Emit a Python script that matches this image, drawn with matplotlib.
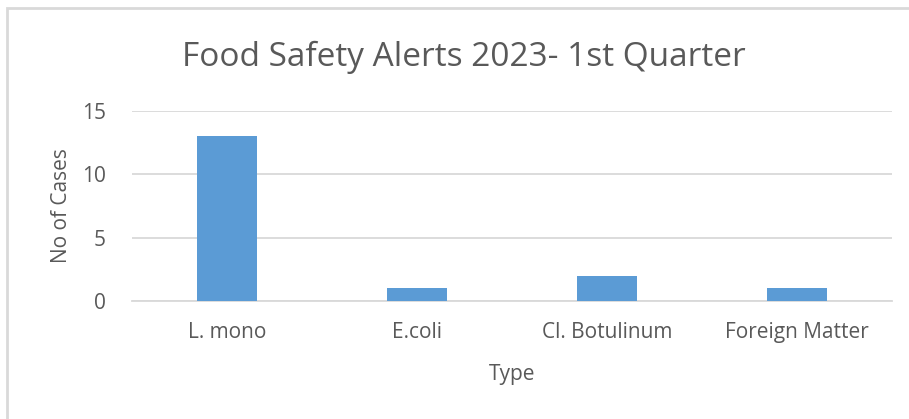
import matplotlib.pyplot as plt
from matplotlib.patches import Rectangle

# 数据
categories = ['L. mono', 'E.coli', 'Cl. Botulinum', 'Foreign Matter']
cases = [13, 1, 2, 1]
yticks = [0, 5, 10, 15]

plt.rcParams['font.family'] = ['Open Sans', 'DejaVu Sans']
textColor = '#595959'
gridColor = '#d9d9d9'

fig = plt.figure(figsize=(9.09, 4.19), dpi=100)
# 外边框（右侧与底部被裁掉）
fig.patches.append(Rectangle((7 / 909, -0.1), 1.2, (419 - 8) / 419 + 0.1,
                             transform=fig.transFigure, fill=False,
                             edgecolor=gridColor, linewidth=2))

ax = fig.add_axes([132 / 909, (419 - 301) / 419, 760 / 909, 190 / 419])
xpos = list(range(len(categories)))
ax.bar(xpos, cases, width=0.315, color='#5b9bd5', zorder=3)
ax.set_xlim(-0.5, len(categories) - 0.5)
ax.set_ylim(0, 15)
ax.set_yticks(yticks)
ax.set_xticks(xpos)
ax.set_xticklabels(categories)
ax.grid(axis='y', color=gridColor, linewidth=1.3, zorder=0)
for side in ['top', 'right', 'left']:
    ax.spines[side].set_visible(False)
ax.spines['bottom'].set_color(gridColor)
ax.spines['bottom'].set_linewidth(1.3)
ax.tick_params(axis='both', length=0, labelsize=15, labelcolor=textColor)
ax.tick_params(axis='x', pad=15)
ax.tick_params(axis='y', pad=19)
ax.set_xlabel('Type', fontsize=15, color=textColor, labelpad=15)
ax.set_ylabel('No of Cases', fontsize=15, color=textColor, labelpad=7)
fig.text(464 / 909, 1 - 57 / 419, 'Food Safety Alerts 2023- 1st Quarter',
         ha='center', va='center', fontsize=24, color=textColor)

plt.savefig('out.png', dpi=100)
